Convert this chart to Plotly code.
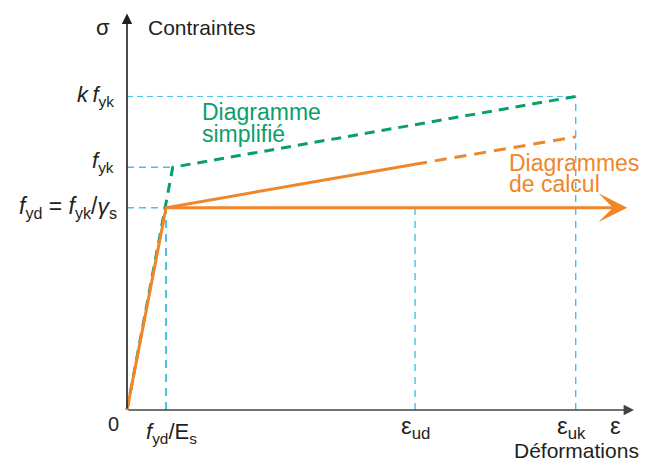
import plotly.graph_objects as go

# ---- data (strain in arbitrary units, stress relative to f_yd) ----
eps_yd = 0.87          # f_yd / E_s
eps_yk = 1.02          # kink of simplified diagram
eps_ud = 6.42
eps_uk = 10.0
eps_axis_end = 11.3
eps_arrow_end = 11.15

f_yd = 1.0
f_yk = 1.20
kf_yk = 1.55
sig_ud = 1.215          # design diagram stress at eps_ud
sig_uk_calc = 1.35      # design diagram stress at eps_uk (dashed)
sig_axis_end = 1.96

green_x = [0, eps_yk, eps_uk]
green_y = [0, f_yk, kf_yk]
orange_solid_x = [0, eps_yd, eps_ud]
orange_solid_y = [0, f_yd, sig_ud]
orange_dash_x = [eps_ud, eps_uk]
orange_dash_y = [sig_ud, sig_uk_calc]

ORANGE = "#F0862A"
GREEN = "#0B9E6C"
CYAN = "#45C1EC"
DARK = "#231F20"
FONT = "Liberation Sans, Arial, sans-serif"

fig = go.Figure()

def guide(xs, ys, w=1.3, dash="6px,4px"):
    fig.add_trace(go.Scatter(x=xs, y=ys, mode="lines",
                             line=dict(color=CYAN, width=w, dash=dash),
                             hoverinfo="skip", showlegend=False))

# cyan guide lines
guide([0, eps_uk], [kf_yk, kf_yk], 1.0, "6px,4px")
guide([eps_uk, eps_uk], [0, kf_yk], 1.4, "7px,6px")
guide([0, eps_yk], [f_yk, f_yk], 1.4, "7px,5px")
guide([0, eps_yd], [f_yd, f_yd], 1.4, "7px,5px")
guide([eps_yd, eps_yd], [0, f_yd], 2.0, "8px,6px")
guide([eps_ud, eps_ud], [0, f_yd], 1.4, "7px,6px")

# simplified diagram (green dashed)
fig.add_trace(go.Scatter(x=green_x, y=green_y, mode="lines",
                         line=dict(color=GREEN, width=3, dash="10px,7px"),
                         hoverinfo="skip", showlegend=False))
# design diagrams (orange)
fig.add_trace(go.Scatter(x=orange_dash_x, y=orange_dash_y, mode="lines",
                         line=dict(color=ORANGE, width=3, dash="12px,8px"),
                         hoverinfo="skip", showlegend=False))
fig.add_trace(go.Scatter(x=orange_solid_x, y=orange_solid_y, mode="lines",
                         line=dict(color=ORANGE, width=3),
                         hoverinfo="skip", showlegend=False))

annotations = []
# horizontal design branch arrow
annotations.append(dict(x=eps_arrow_end, y=f_yd, ax=eps_yd, ay=f_yd,
                        xref="x", yref="y", axref="x", ayref="y", text="",
                        showarrow=True, arrowhead=3, arrowwidth=3, arrowsize=1.6,
                        arrowcolor=ORANGE, standoff=0, startstandoff=0))
# axes
annotations.append(dict(x=eps_axis_end, y=0, ax=0, ay=0,
                        xref="x", yref="y", axref="x", ayref="y", text="",
                        showarrow=True, arrowhead=2, arrowwidth=1.6, arrowsize=1.3,
                        arrowcolor="#444444", standoff=0))
annotations.append(dict(x=0, y=sig_axis_end, ax=0, ay=0,
                        xref="x", yref="y", axref="x", ayref="y", text="",
                        showarrow=True, arrowhead=2, arrowwidth=1.6, arrowsize=1.3,
                        arrowcolor=DARK, standoff=0))

def label(text, x, y, xanchor="center", yanchor="middle", xshift=0, yshift=0,
          color=DARK, size=20):
    annotations.append(dict(text=text, x=x, y=y, xref="x", yref="y",
                            xanchor=xanchor, yanchor=yanchor,
                            xshift=xshift, yshift=yshift, showarrow=False,
                            borderpad=0,
                            font=dict(family=FONT, size=size, color=color)))

label("σ", 0, sig_axis_end, xanchor="center", xshift=-24, yshift=-14, size=22)
label("Contraintes", 0, sig_axis_end, xanchor="left", xshift=20, yshift=-14, size=21)
label("<i>k\u2009f</i><sub>yk</sub>", 0, kf_yk, xanchor="right", xshift=-12, yshift=0, size=22)
label("<i>f</i><sub>yk</sub>", 0, f_yk, xanchor="right", xshift=-12, yshift=5, size=22)
label("<i>f</i><sub>yd</sub> = <i>f</i><sub>yk</sub>/<i>γ</i><sub>s</sub>", 0, f_yd,
      xanchor="right", xshift=-9, yshift=0, size=23)
label("0", 0, 0, xanchor="center", xshift=-14, yshift=-14, size=20)
label("<i>f</i><sub>yd</sub>/E<sub>s</sub>", eps_yd, 0, xshift=5, yshift=-23, size=22)
label("ε<sub>ud</sub>", eps_ud, 0, xshift=0, yshift=-17, size=24)
label("ε<sub>uk</sub>", eps_uk, 0, xshift=-4, yshift=-17, size=24)
label("ε", eps_axis_end, 0, xshift=-19, yshift=-15, size=24)
label("Déformations", eps_axis_end, 0, xanchor="right", xshift=6, yshift=-40, size=21)
label("Diagramme", 1.694, 1.473, xanchor="left", xshift=-2, color=GREEN, size=23)
label("simplifié", 1.694, 1.364, xanchor="left", xshift=-2, color=GREEN, size=23)
label("Diagrammes", 8.536, 1.221, xanchor="left", xshift=-2, color=ORANGE, size=23)
label("de calcul", 8.536, 1.117, xanchor="left", xshift=-2, color=ORANGE, size=23)

SX = 44.87
SY = 202.3
fig.update_layout(
    width=648, height=464,
    margin=dict(l=0, r=0, t=0, b=0),
    paper_bgcolor="white", plot_bgcolor="white",
    xaxis=dict(range=[-127 / SX, 521 / SX], visible=False, fixedrange=True),
    yaxis=dict(range=[-54 / SY, 410 / SY], visible=False, fixedrange=True),
    annotations=annotations,
    showlegend=False,
    hovermode=False,
)

fig.write_html("out.html",
               config={"displayModeBar": False},
               post_script="document.body.style.margin='0';document.body.style.overflow='hidden';")
